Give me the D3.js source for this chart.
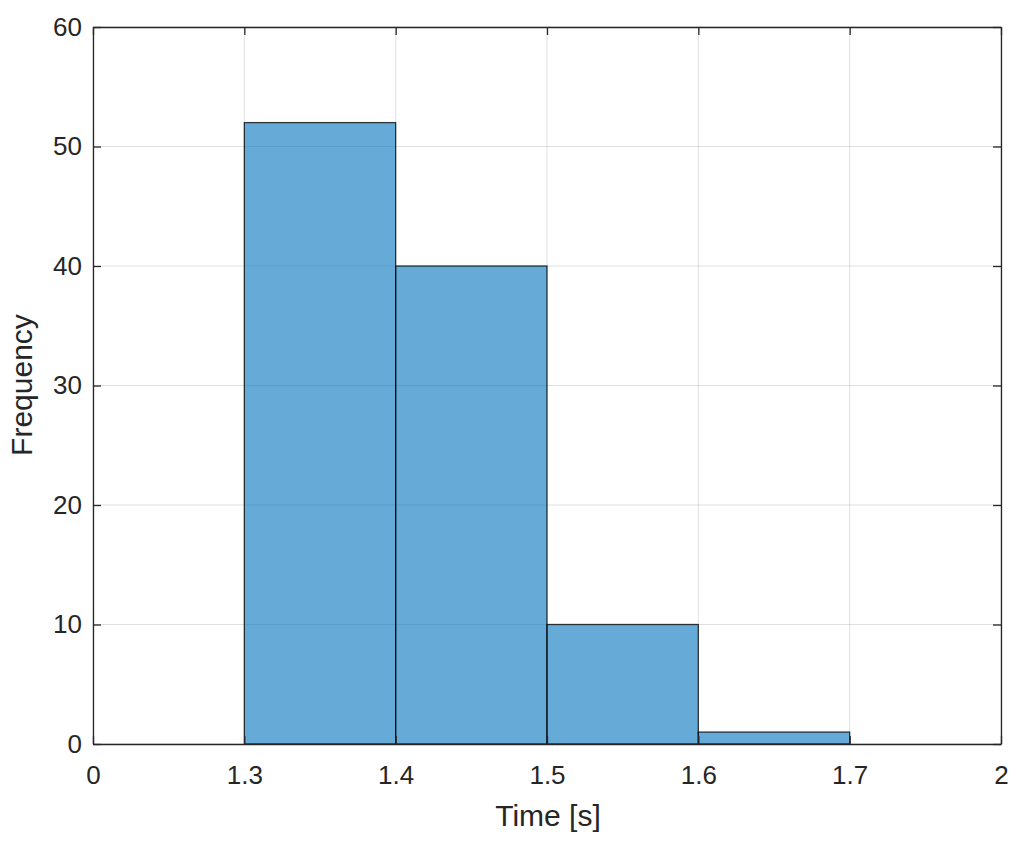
<!DOCTYPE html>
<html><head><meta charset="utf-8">
<script src="https://cdn.jsdelivr.net/npm/d3@7"></script>
<style>body{margin:0;background:#fff}svg{display:block}text{font-family:"Liberation Sans",Arial,sans-serif}</style>
</head><body>
<svg id="c" width="1027" height="842"></svg>
<script>
const xTickLabels = ["0","1.3","1.4","1.5","1.6","1.7","2"];
const binEdgesIdx = [1,2,3,4,5];
const counts = [52,40,10,1];
const yTicks = [0,10,20,30,40,50,60];

const svg = d3.select("#c");
const L=93,R=1001,T=27,B=744;
const x = d3.scaleLinear().domain([0,xTickLabels.length-1]).range([L,R]);
const y = d3.scaleLinear().domain([0,60]).range([B,T]);
const axisCol="#262626";

// grid
const g = svg.append("g");
g.selectAll(".gx").data(d3.range(xTickLabels.length)).join("line")
 .attr("x1",d=>x(d)).attr("x2",d=>x(d)).attr("y1",T).attr("y2",B)
 .attr("stroke","#000").attr("stroke-opacity",0.12).attr("stroke-width",1);
g.selectAll(".gy").data(yTicks).join("line")
 .attr("x1",L).attr("x2",R).attr("y1",d=>y(d)).attr("y2",d=>y(d))
 .attr("stroke","#000").attr("stroke-opacity",0.12).attr("stroke-width",1);

// bars
const bins = counts.map((c,i)=>({x0:binEdgesIdx[i],x1:binEdgesIdx[i+1],c}));
svg.append("g").selectAll("rect").data(bins).join("rect")
 .attr("x",d=>x(d.x0)).attr("width",d=>x(d.x1)-x(d.x0))
 .attr("y",d=>y(d.c)).attr("height",d=>y(0)-y(d.c))
 .attr("fill","#0072BD").attr("fill-opacity",0.6)
 .attr("stroke","#000").attr("stroke-opacity",0.75).attr("stroke-width",1.3);

// axes
const tl=8;
const xb = d3.axisBottom(x).tickValues(d3.range(xTickLabels.length)).tickFormat(i=>xTickLabels[i]).tickSizeInner(-tl).tickSizeOuter(0).tickPadding(22);
const xt = d3.axisTop(x).tickValues(d3.range(xTickLabels.length)).tickFormat("").tickSizeInner(-tl).tickSizeOuter(0);
const yl = d3.axisLeft(y).tickValues(yTicks).tickSizeInner(-tl).tickSizeOuter(0).tickPadding(11);
const yr = d3.axisRight(y).tickValues(yTicks).tickFormat("").tickSizeInner(-tl).tickSizeOuter(0);
function style(sel){
  sel.select(".domain").attr("stroke",axisCol).attr("stroke-width",1.3);
  sel.selectAll(".tick line").attr("stroke",axisCol).attr("stroke-width",1.3);
  sel.selectAll(".tick text").attr("fill",axisCol).style("font-size","26px").style("font-family","'Liberation Sans',Arial,sans-serif");
}
style(svg.append("g").attr("transform",`translate(0,${B})`).call(xb));
style(svg.append("g").attr("transform",`translate(0,${T})`).call(xt));
style(svg.append("g").attr("transform",`translate(${L},0)`).call(yl));
style(svg.append("g").attr("transform",`translate(${R},0)`).call(yr));

svg.append("text").attr("x",548).attr("y",826).attr("text-anchor","middle")
 .attr("fill",axisCol).style("font-size","30px").text("Time [s]");
svg.append("text").attr("transform",`translate(32,385) rotate(-90)`).attr("text-anchor","middle")
 .attr("fill",axisCol).style("font-size","30px").text("Frequency");
</script>
</body></html>
